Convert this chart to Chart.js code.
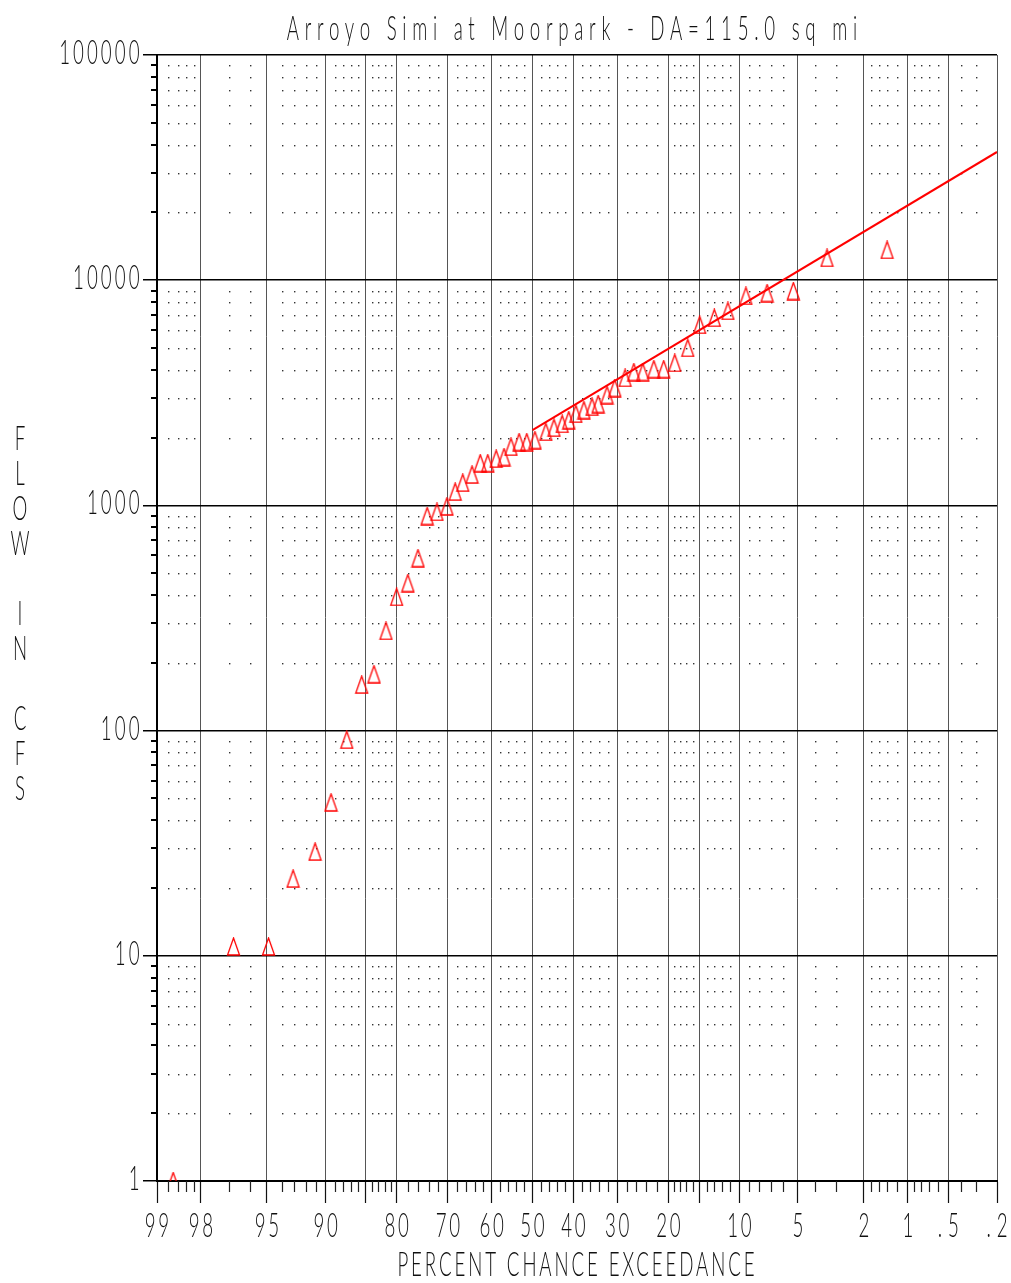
<!DOCTYPE html>
<html>
<head>
<meta charset="utf-8">
<title>Arroyo Simi at Moorpark</title>
<script src="https://cdn.jsdelivr.net/npm/chart.js@4.4.1/dist/chart.umd.min.js"></script>
<style>
  html, body { margin: 0; padding: 0; background: #fff; }
  canvas { display: block; }
</style>
</head>
<body>
<canvas id="freqChart" width="1011" height="1283"></canvas>
<script>
// ranked annual peaks: percent chance exceedance and flow (cfs)
const pctExceed = [98.7, 96.8, 94.9, 93.1, 91.1, 89.4, 87.5, 85.5, 83.7, 81.8,
  80.0, 78.0, 76.1, 74.3, 72.3, 70.2, 68.4, 66.7, 64.6, 62.7,
  60.9, 58.9, 57.0, 55.3, 53.3, 51.4, 49.4, 46.7, 44.7, 42.7,
  41.1, 39.4, 37.5, 35.6, 34.2, 32.2, 30.5, 28.3, 26.5, 24.7,
  22.6, 20.8, 18.9, 16.8, 15.0, 13.0, 11.3, 9.3, 7.3, 5.3, 3.4, 1.4];
const peakFlow = [1, 11, 11, 22, 29, 48, 91, 160, 178, 277,
  392, 452, 583, 897, 935, 990, 1150, 1260, 1370, 1540,
  1540, 1610, 1640, 1820, 1910, 1910, 1950, 2120, 2210, 2300,
  2390, 2550, 2650, 2740, 2820, 3090, 3320, 3680, 3910, 3910,
  4030, 4030, 4290, 5000, 6330, 6800, 7300, 8510, 8770, 8950, 12550, 13620];

// fitted frequency curve
const curvePct = [50, 0.2];
const curveFlow = [2160, 37100];

// axis ticks
const xLabelPct = [99, 98, 95, 90, 80, 70, 60, 50, 40, 30, 20, 10, 5, 2, 1, 0.5, 0.2];
const xExtraLinePct = [85, 15];
const xMinorPct = [98.8, 98.6, 98.4, 98.2, 97, 96, 94, 93, 92, 91, 89, 88, 87, 86,
  84, 83, 82, 81, 78, 76, 74, 72, 68, 66, 64, 62, 58, 56, 54, 52, 48, 46, 44, 42,
  38, 36, 34, 32, 28, 26, 24, 22, 19, 18, 17, 16, 14, 13, 12, 11, 9, 8, 7, 6, 4, 3,
  1.8, 1.6, 1.4, 1.2, 0.9, 0.8, 0.7, 0.6, 0.4, 0.3];
const yLabelFlow = [1, 10, 100, 1000, 10000, 100000];
const yMinorSteps = [2, 3, 4, 5, 6, 7, 8, 9];

const chartTitle = 'Arroyo Simi at Moorpark - DA=115.0 sq mi';
const xAxisTitle = 'PERCENT CHANCE EXCEEDANCE';
const yAxisTitle = 'FLOW IN CFS';

// inverse standard normal (Acklam)
function normInv(p) {
  const a = [-3.969683028665376e+01, 2.209460984245205e+02, -2.759285104469687e+02, 1.383577518672690e+02, -3.066479806614716e+01, 2.506628277459239e+00];
  const b = [-5.447609879822406e+01, 1.615858368580409e+02, -1.556989798598866e+02, 6.680131188771972e+01, -1.328068155288572e+01];
  const c = [-7.784894002430293e-03, -3.223964580411365e-01, -2.400758277161838e+00, -2.549732539343734e+00, 4.374664141464968e+00, 2.938163982698783e+00];
  const d = [7.784695709041462e-03, 3.224671290700398e-01, 2.445134137142996e+00, 3.754408661907416e+00];
  const pl = 0.02425;
  let q, r;
  if (p < pl) {
    q = Math.sqrt(-2 * Math.log(p));
    return (((((c[0]*q+c[1])*q+c[2])*q+c[3])*q+c[4])*q+c[5]) / ((((d[0]*q+d[1])*q+d[2])*q+d[3])*q+1);
  }
  if (p > 1 - pl) {
    q = Math.sqrt(-2 * Math.log(1 - p));
    return -(((((c[0]*q+c[1])*q+c[2])*q+c[3])*q+c[4])*q+c[5]) / ((((d[0]*q+d[1])*q+d[2])*q+d[3])*q+1);
  }
  q = p - 0.5; r = q * q;
  return (((((a[0]*r+a[1])*r+a[2])*r+a[3])*r+a[4])*r+a[5])*q / (((((b[0]*r+b[1])*r+b[2])*r+b[3])*r+b[4])*r+1);
}
// exceedance percent -> normal deviate (probability paper)
const probit = pct => normInv(1 - pct / 100);

function pctLabel(p) {
  return p < 1 ? '.' + String(p).split('.')[1] : String(p);
}

// thin condensed lettering like the plotter font
const FONT_FAMILY = "Lato, 'DejaVu Sans', sans-serif";
function drawSpaced(ctx, text, x, base, pitch, align) {
  const squeeze = 0.55;
  ctx.save();
  ctx.font = '300 34px ' + FONT_FAMILY;
  ctx.fillStyle = '#111';
  ctx.textBaseline = 'alphabetic';
  ctx.textAlign = 'left';
  const total = text.length * pitch;
  let x0 = x;
  if (align === 'center') x0 = x - total / 2;
  if (align === 'right') x0 = x - total;
  const natural = ctx.measureText(text).width;
  const spacing = (total / squeeze - natural) / text.length;
  ctx.translate(x0, base);
  ctx.scale(squeeze, 1);
  if ('letterSpacing' in ctx) {
    ctx.letterSpacing = spacing + 'px';
    ctx.fillText(text, spacing / 2, 0);
  } else {
    ctx.fillText(text, 0, 0);
  }
  ctx.restore();
}

function makeTriangle() {
  const c = document.createElement('canvas');
  c.width = 15; c.height = 19;
  const g = c.getContext('2d');
  g.strokeStyle = '#ff0000';
  g.lineWidth = 1.3;
  g.beginPath();
  g.moveTo(7.5, 1);
  g.lineTo(13.5, 18);
  g.lineTo(1.5, 18);
  g.closePath();
  g.stroke();
  return c;
}

const paperGrid = {
  id: 'paperGrid',
  beforeDatasetsDraw(chart) {
    const { ctx, scales: { x, y } } = chart;
    ctx.save();
    // dotted minor grid
    ctx.fillStyle = '#333';
    for (const p of xMinorPct) {
      const px = Math.round(x.getPixelForValue(probit(p)));
      for (let dec = 1; dec < 100000; dec *= 10) {
        for (const m of yMinorSteps) {
          const py = Math.round(y.getPixelForValue(dec * m));
          ctx.fillRect(px, py, 1.4, 1.4);
        }
      }
    }
    // minor x ticks
    ctx.strokeStyle = '#222';
    ctx.lineWidth = 1.2;
    const bottom = chart.chartArea.bottom;
    ctx.beginPath();
    for (const p of xMinorPct) {
      const px = Math.round(x.getPixelForValue(probit(p))) + 0.5;
      ctx.moveTo(px, bottom);
      ctx.lineTo(px, bottom + 11);
    }
    ctx.stroke();
    // minor y ticks
    ctx.strokeStyle = '#000';
    ctx.lineWidth = 2;
    const left = chart.chartArea.left;
    ctx.beginPath();
    for (let dec = 1; dec < 100000; dec *= 10) {
      for (const m of yMinorSteps) {
        const py = Math.round(y.getPixelForValue(dec * m));
        ctx.moveTo(left - 6, py);
        ctx.lineTo(left, py);
      }
    }
    ctx.stroke();
    ctx.restore();
  },
  afterDraw(chart) {
    const { ctx, scales: { x, y } } = chart;
    for (const v of yLabelFlow) {
      drawSpaced(ctx, String(v), 141, y.getPixelForValue(v) + 9, 13.9, 'right');
    }
    for (const p of xLabelPct) {
      drawSpaced(ctx, pctLabel(p), x.getPixelForValue(probit(p)), 1237, 13.5, 'center');
    }
    drawSpaced(ctx, chartTitle, 572, 40, 14.4, 'center');
    drawSpaced(ctx, xAxisTitle, 576, 1276, 14.4, 'center');
    const letters = yAxisTitle.split('');
    letters.forEach((ch, i) => {
      if (ch !== ' ') drawSpaced(ctx, ch, 20, 450 + i * 35, 14, 'center');
    });
  }
};

const ctx = document.getElementById('freqChart').getContext('2d');
const freqChart = new Chart(ctx, {
  type: 'scatter',
  data: {
    datasets: [
      {
        label: 'Computed curve',
        data: curvePct.map((p, i) => ({ x: probit(p), y: curveFlow[i] })),
        showLine: true,
        borderColor: '#ff0000',
        borderWidth: 2,
        pointRadius: 0,
        fill: false
      },
      {
        label: 'Observed peaks',
        data: pctExceed.map((p, i) => ({ x: probit(p), y: peakFlow[i] })),
        pointStyle: makeTriangle(),
        pointRadius: 8,
        showLine: false
      }
    ]
  },
  options: {
    responsive: false,
    animation: false,
    events: [],
    layout: { padding: { top: 55, right: 14, left: 0, bottom: 0 } },
    plugins: {
      legend: { display: false },
      tooltip: { enabled: false },
      title: { display: false }
    },
    scales: {
      x: {
        type: 'linear',
        min: probit(99),
        max: probit(0.2),
        afterBuildTicks: scale => {
          scale.ticks = xLabelPct.concat(xExtraLinePct).map(p => ({ value: probit(p) }));
        },
        afterFit: scale => { scale.height = 102; },
        ticks: { display: false },
        grid: { color: '#555', lineWidth: 1, tickLength: 22, tickColor: '#111', tickWidth: 1.2 },
        border: { color: '#000', width: 2 }
      },
      y: {
        type: 'logarithmic',
        min: 1,
        max: 100000,
        afterBuildTicks: scale => {
          scale.ticks = yLabelFlow.map(v => ({ value: v }));
        },
        afterFit: scale => { scale.width = 157; },
        ticks: { display: false },
        grid: { color: '#000', lineWidth: 1.5, tickLength: 14, tickColor: '#000' },
        border: { color: '#000', width: 2 }
      }
    }
  },
  plugins: [paperGrid]
});
</script>
</body>
</html>
